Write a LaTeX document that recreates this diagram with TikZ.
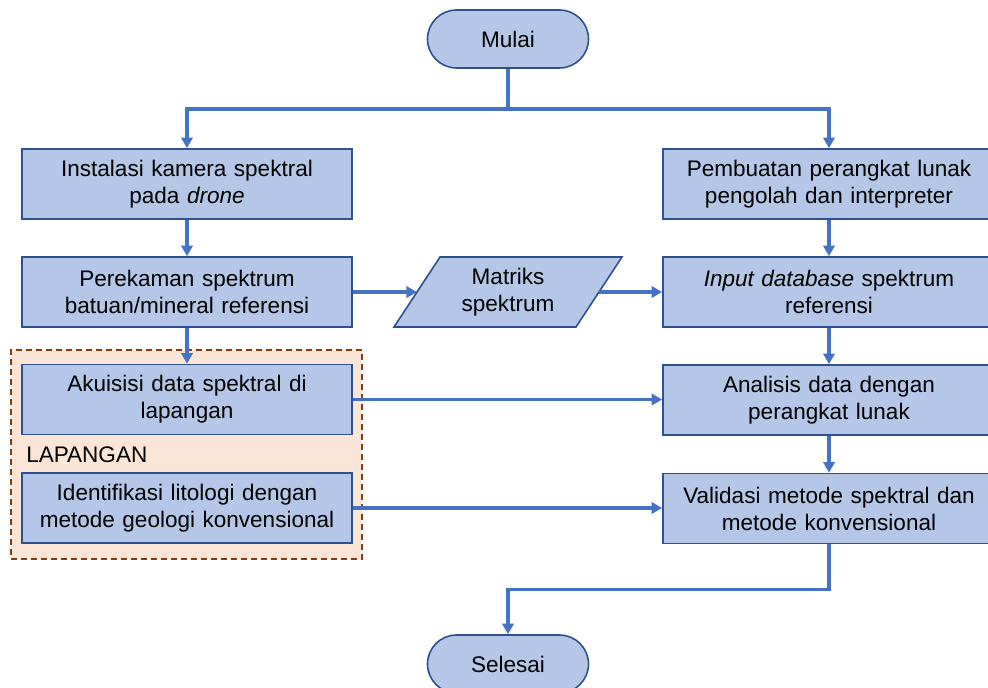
\documentclass[tikz,border=0pt]{standalone}
\usepackage{fontspec}
\setmainfont{Liberation Sans}
\usetikzlibrary{shapes.misc,arrows.meta}
\definecolor{boxfill}{HTML}{B4C7E7}
\definecolor{boxline}{HTML}{2F528F}
\definecolor{flowline}{HTML}{4472C4}
\definecolor{peach}{HTML}{FBE5D6}
\definecolor{brownline}{HTML}{843C0C}
\tikzset{
  proc/.style={rectangle, fill=boxfill, draw=boxline, line width=1.2pt,
    minimum width=247.5pt, minimum height=52.5pt, text width=240pt,
    align=center, inner sep=0pt},
  procR/.style={proc, minimum width=249pt},
  term/.style={rounded rectangle, fill=boxfill, draw=boxline, line width=1.2pt,
    minimum width=120.75pt, minimum height=43.5pt, inner sep=0pt},
  datashape/.style={fill=boxfill, draw=boxline, line width=1.2pt},
  flow/.style={draw=flowline, line width=2.6pt},
  arr/.style={flow, -{Triangle[length=8pt,width=8.5pt]}},
  groupbox/.style={rectangle, fill=peach, draw=brownline, line width=1.1pt,
    dash pattern=on 4.5pt off 3pt, minimum width=263.25pt, minimum height=156.75pt, inner sep=0pt}
}
\begin{document}
\begin{tikzpicture}[x=0.75pt,y=-0.75pt,font=\fontsize{16.9}{20.25}\selectfont]
\clip (0,0) rectangle (988,688);
% group background
\node[groupbox] (lap) at (186.5,454.5) {};
\node[anchor=west, inner sep=0pt] (lapt) at (26,455) {LAPANGAN};
% terminals
\node[term] (mulai) at (508,39) {Mulai};
\node[term] (sel) at (508,664) {Selesai};
% left column
\node[proc] (L1) at (187,184) {Instalasi kamera spektral\\pada \textit{drone}};
\node[proc] (L2) at (187,292) {Perekaman spektrum\\batuan/mineral referensi};
\node[proc] (L3) at (187,399.5) {Akuisisi data spektral di\\lapangan};
\node[proc] (L4) at (187,508) {Identifikasi litologi dengan\\metode geologi konvensional};
% right column
\node[procR] (R1) at (829,184) {Pembuatan perangkat lunak\\pengolah dan interpreter};
\node[procR] (R2) at (829,292) {\textit{Input database} spektrum\\referensi};
\node[procR] (R3) at (829,400) {Analisis data dengan\\perangkat lunak};
\node[procR] (R4) at (829,508.5) {Validasi metode spektral dan\\metode konvensional};
% data (parallelogram)
\draw[datashape] (440,257) -- (622,257) -- (576,327) -- (394,327) -- cycle;
\node[align=center, inner sep=0pt] (par) at (508,292) {Matriks\\spektrum};
\coordinate (parW) at (417,292);
\coordinate (parE) at (599,292);
% connectors
\draw[flow] (mulai.south) -- ++(0,40) coordinate (split);
\draw[arr] (split) -| (L1.north);
\draw[arr] (split) -| (R1.north);
\draw[arr] (L1.south) -- (L2.north);
\draw[arr] (L2.south) -- (L3.north);
\draw[arr] (R1.south) -- (R2.north);
\draw[arr] (R2.south) -- (R3.north);
\draw[arr] (R3.south) -- (R4.north);
\draw[arr] (L2.east) -- (parW);
\draw[arr] (parE) -- (R2.west);
\draw[arr] (L3.east) -- (L3.east -| R3.west);
\draw[arr] (L4.east) -- (L4.east -| R4.west);
\draw[arr] (R4.south) -- ++(0,45) -| (sel.north);
\end{tikzpicture}
\end{document}
